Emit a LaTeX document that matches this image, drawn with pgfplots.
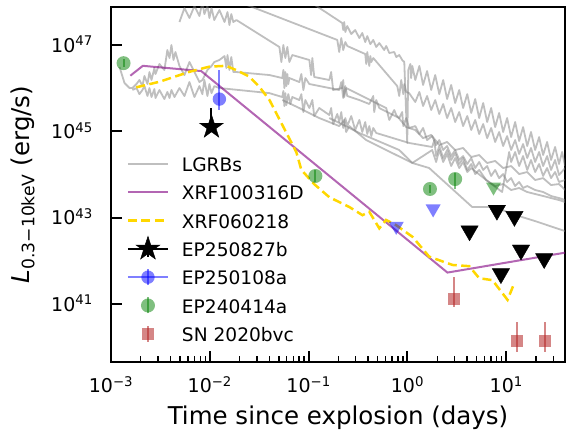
\documentclass[border=0pt]{standalone}
\usepackage{fontspec}
\setmainfont{DejaVu Sans}
\usepackage{pgfplots}
\pgfplotsset{compat=1.18}

\definecolor{lgrbgray}{RGB}{128,128,128}
\definecolor{xpurple}{RGB}{128,0,128}
\definecolor{xgold}{RGB}{255,215,0}
\definecolor{egreen}{RGB}{0,128,0}
\definecolor{eblue}{RGB}{0,0,255}
\definecolor{sred}{RGB}{178,34,34}

\pgfdeclareplotmark{fstar}{%
  \pgfpathmoveto{\pgfpointpolar{90}{\pgfplotmarksize}}%
  \pgfpathlineto{\pgfpointpolar{126}{0.382\pgfplotmarksize}}%
  \pgfpathlineto{\pgfpointpolar{162}{\pgfplotmarksize}}%
  \pgfpathlineto{\pgfpointpolar{198}{0.382\pgfplotmarksize}}%
  \pgfpathlineto{\pgfpointpolar{234}{\pgfplotmarksize}}%
  \pgfpathlineto{\pgfpointpolar{270}{0.382\pgfplotmarksize}}%
  \pgfpathlineto{\pgfpointpolar{306}{\pgfplotmarksize}}%
  \pgfpathlineto{\pgfpointpolar{342}{0.382\pgfplotmarksize}}%
  \pgfpathlineto{\pgfpointpolar{18}{\pgfplotmarksize}}%
  \pgfpathlineto{\pgfpointpolar{54}{0.382\pgfplotmarksize}}%
  \pgfpathclose\pgfusepathqfillstroke}

\pgfplotsset{
  lgrb/.style={draw=lgrbgray, draw opacity=0.5, line width=1.8pt, mark=none, line join=round, forget plot},
}

\begin{document}
\begin{tikzpicture}
\useasboundingbox (-111pt,-70pt) rectangle (455pt,362pt);
\begin{axis}[
  at={(0pt,0pt)}, anchor=south west,
  scale only axis, width=454pt, height=355pt,
  xmode=log, ymode=log,
  xmin=1e-3, xmax=39.3, ymin=4.6e39, ymax=7.6e47,
  xtick={0.001,0.01,0.1,1,10},
  xticklabels={10\textsuperscript{−3},10\textsuperscript{−2},10\textsuperscript{−1},10\textsuperscript{0},10\textsuperscript{1}},
  minor xtick={0.002,0.003,0.004,0.005,0.006,0.007,0.008,0.009,0.02,0.03,0.04,0.05,0.06,0.07,0.08,0.09,0.2,0.3,0.4,0.5,0.6,0.7,0.8,0.9,2,3,4,5,6,7,8,9,20,30},
  ytick={1e41,1e43,1e45,1e47},
  yticklabels={10\textsuperscript{41},10\textsuperscript{43},10\textsuperscript{45},10\textsuperscript{47}},
  yminorticks=false,
  tick pos=left, tick align=inside,
  major tick length=11pt, minor tick length=5.5pt,
  every major tick/.append style={line width=2pt, black},
  every minor tick/.append style={line width=1.3pt, black},
  axis line style={line width=2.5pt},
  tick label style={font=\fontsize{19}{23}\selectfont},
  xticklabel style={inner sep=0pt, anchor=base, yshift=-31pt},
  yticklabel style={inner sep=0pt, anchor=base east, xshift=-18pt, yshift=-7pt},
  label style={font=\fontsize{24.5}{29}\selectfont},
  xlabel={Time since explosion (days)},
  ylabel={{\itshape L}\textsubscript{0.3−10keV} (erg/s)},
  xlabel style={at={(axis description cs:0.5,-0.1775)}, anchor=base},
  ylabel style={at={(axis description cs:-0.1784,0.5)}, anchor=base},
  legend style={at={(axis description cs:0.0374,0.5755)}, anchor=north west,
    draw=none, fill=none, inner sep=0pt, outer sep=0pt,
    row sep=10.3pt, column sep=14pt,
    font=\fontsize{18.6}{22}\selectfont,
    cells={anchor=base west},
    nodes={inner sep=0pt, text height=14pt, text depth=4pt}},
]

% ---------------- LGRBs (grey) ----------------
\addplot[lgrb] coordinates {
(4.93e-3,3.41e47) (5.54e-3,7.2e47) (6.22e-3,4.22e47) (6.99e-3,8.0e47) (7.85e-3,4.69e47) (8.41e-3,9.9e47) (8.81e-3,5.2e47) (9.46e-3,8.0e47) (9.91e-3,4.22e47) (1.04e-2,7.2e47) (1.11e-2,3.79e47) (1.25e-2,6.46e47) (1.41e-2,3.41e47) (1.51e-2,5.8e47) (1.58e-2,2.90e47) (1.65e-2,5.2e47) (1.73e-2,3.41e47) (1.86e-2,3.79e47)
(5.06e-2,9.0e46) (5.30e-2,4.04e46) (5.55e-2,1.0e47) (5.81e-2,5.0e46) (6.09e-2,9.0e46) (6.38e-2,4.04e46) (6.84e-2,5.87e46) (0.1017,4.50e46) (0.106,2.02e46) (0.109,5.0e46) (0.114,1.82e46) (0.162,1.55e46) (0.169,2.37e46) (0.177,9.1e45) (0.219,1.01e46) (0.224,1.55e46) (0.229,6.25e45) (0.240,1.01e46) (0.610,3.48e45) (0.655,1.84e45) (0.735,3.13e45) (0.771,2.40e45) (0.973,1.26e45) (1.20,1.08e45) (1.44,7.0e44) (1.74,8.3e44) (2.10,4.84e44) (2.52,5.7e44) (3.04,3.71e44) (3.66,4.13e44) (4.42,2.55e44) (5.32,2.84e44) (6.41,1.86e44) (7.72,2.07e44) (9.30,1.42e44) (11.2,1.58e44) (13.5,1.03e44) (16.3,1.15e44) (19.6,7.5e43) (23.6,8.3e43) (28.4,5.74e43) (34.2,6.05e43) (39.4,4.40e43)
};
\addplot[lgrb] coordinates {
(0.0906,1.22e48) (0.219,3.23e47) (0.224,2.22e47) (0.229,3.41e47) (0.235,2.00e47) (0.246,2.75e47) (0.270,1.80e47) (0.296,2.22e47) (0.326,1.45e47) (0.349,1.90e47) (0.374,1.17e47) (0.392,1.61e47) (0.421,1.05e47) (0.451,1.31e47) (0.483,9.0e46) (0.519,1.11e47) (0.582,7.66e46) (0.610,9.5e46) (0.655,6.53e46) (0.735,6.89e46) (0.771,5.28e46) (0.826,5.87e46) (0.885,4.50e46) (0.929,4.04e46) (0.995,5.4e44) (1.02,2.64e46) (1.07,3.63e46) (1.09,1.72e46) (1.12,3.27e46)
(1.20,1.55e46) (1.32,3.27e46) (1.44,1.19e46) (1.58,2.50e46) (1.74,9.1e45) (1.91,2.02e46) (2.10,7.3e45) (2.30,1.55e46) (2.52,5.62e45) (2.77,1.19e46) (3.04,4.54e45) (3.34,9.1e45) (3.66,3.48e45) (4.03,7.3e45) (4.42,2.67e45) (4.85,5.62e45) (5.32,2.04e45) (5.84,4.54e45) (6.41,1.65e45) (7.03,3.48e45) (7.72,1.26e45) (8.47,2.67e45) (9.30,9.7e44) (10.2,2.04e45) (11.2,7.4e44) (12.3,1.65e45) (13.5,6.0e44) (14.8,1.26e45) (16.3,4.59e44) (17.8,9.7e44) (19.6,3.71e44) (21.5,7.4e44) (23.6,2.84e44) (25.9,5.7e44) (28.4,2.18e44) (31.2,4.36e44) (34.2,1.76e44) (36.7,3.34e44) (39.4,1.58e44)
};
\addplot[lgrb] coordinates {
(2.24e-2,8.9e47) (0.195,1.31e47) (0.204,6.89e46) (0.214,1.45e47) (0.224,7.66e46) (0.235,1.17e47) (0.246,9.5e46) (0.374,6.19e46) (0.383,3.63e46) (0.392,6.89e46) (0.411,3.27e46) (0.421,5.56e46) (0.431,4.04e46) (0.451,5.00e46) (0.789,1.12e46) (0.826,6.6e45) (0.865,1.55e46) (0.908,7.3e45) (0.929,1.25e46) (0.973,8.2e45) (1.04,7.7e45)
(1.20,4.80e45) (1.32,8.2e45) (1.44,3.87e45) (1.58,6.6e45) (1.74,3.13e45) (1.91,5.33e45) (2.10,2.53e45) (2.30,4.31e45) (2.52,2.04e45) (2.77,3.48e45) (3.04,1.65e45) (3.34,2.81e45) (3.66,1.33e45) (4.03,2.27e45) (4.42,1.08e45) (4.85,1.84e45) (5.32,8.7e44) (5.84,1.48e45) (6.41,7.0e44) (7.03,1.20e45) (7.72,5.7e44) (8.47,9.7e44) (9.30,4.59e44) (10.2,7.8e44) (11.2,3.71e44) (12.3,6.3e44) (13.5,3.0e44) (14.8,5.1e44) (16.3,2.42e44) (17.8,4.13e44) (19.6,1.96e44) (21.5,3.34e44) (23.6,1.58e44) (25.9,2.69e44) (28.4,1.28e44) (31.2,2.18e44) (34.2,9.8e43) (39.4,1.42e44)
};
\addplot[lgrb] coordinates {
(1.22e-3,3.10e46) (1.37e-3,1.32e46) (1.54e-3,1.01e46) (1.65e-3,1.01e46) (1.81e-3,1.25e46) (1.94e-3,1.55e46) (2.08e-3,1.12e46) (2.18e-3,1.92e46) (2.34e-3,1.25e46) (2.45e-3,2.37e46) (2.57e-3,1.55e46) (2.75e-3,2.94e46) (2.82e-3,2.13e46) (3.09e-3,3.63e46) (3.47e-3,2.64e46) (3.72e-3,7.66e46) (3.91e-3,5.00e46) (4.09e-3,1.00e47) (4.29e-3,4.50e46) (4.49e-3,6.89e46) (4.93e-3,3.27e46) (5.54e-3,2.02e46) (6.22e-3,4.04e46) (6.99e-3,2.37e46) (7.85e-3,1.39e46) (8.41e-3,1.55e46) (9.46e-3,2.64e46) (1.04e-2,3.27e46) (1.11e-2,4.04e46) (1.25e-2,4.50e46) (1.41e-2,5.56e46) (1.47e-2,2.94e46) (1.51e-2,5.87e46) (1.58e-2,2.64e46) (1.65e-2,5.28e46) (1.73e-2,2.37e46) (1.86e-2,2.37e46)
(4.01e-2,2.02e46) (5.42e-2,1.72e46) (5.55e-2,2.64e46) (5.68e-2,1.01e46) (5.81e-2,2.37e46) (5.95e-2,1.12e46) (6.09e-2,2.13e46) (6.23e-2,1.25e46) (6.38e-2,1.72e46) (8.05e-2,1.39e46) (8.44e-2,2.13e46) (8.85e-2,9.1e45) (9.27e-2,1.72e46) (0.1017,1.25e46) (0.204,9.1e45) (0.214,1.39e46) (0.224,5.93e45) (0.235,1.12e46) (0.246,6.6e45) (0.326,5.33e45) (0.411,4.31e45) (0.451,6.6e45) (0.461,2.81e45) (0.483,5.33e45) (0.519,3.48e45) (0.826,2.04e45) (0.885,2.81e45) (0.908,1.33e45) (0.973,2.04e45) (1.04,1.20e45)
(1.20,1.33e45) (1.32,8.7e44) (1.44,1.20e45) (1.58,6.3e44) (1.78,7.8e44) (1.95,4.84e44) (2.10,6.3e44) (2.30,3.71e44) (2.52,4.59e44) (2.77,2.69e44) (3.04,3.71e44) (3.34,2.18e44) (3.66,2.69e44) (4.03,1.76e44) (4.42,2.42e44) (4.85,1.42e44) (5.32,1.96e44) (5.84,1.28e44) (6.41,1.58e44) (7.03,9.3e43) (7.72,1.28e44) (8.47,8.3e43) (9.30,1.03e44) (10.2,6.75e43) (11.2,8.3e43) (12.3,5.44e43) (13.5,6.75e43) (14.8,4.90e43) (16.3,5.44e43) (19.6,4.40e43) (23.6,3.96e43) (28.4,3.20e43) (34.2,2.87e43) (39.4,2.58e43)
};
\addplot[lgrb] coordinates {
(1.65e-3,9.1e45) (1.81e-3,1.01e46) (1.94e-3,7.3e45) (2.08e-3,9.1e45) (2.18e-3,1.12e46) (2.34e-3,6.6e45) (2.45e-3,1.01e46) (2.57e-3,6.25e45) (2.75e-3,9.6e45) (2.82e-3,5.93e45) (3.09e-3,9.1e45) (3.47e-3,5.62e45) (3.72e-3,8.2e45) (3.91e-3,5.93e45) (4.09e-3,9.1e45) (4.39e-3,6.25e45) (4.93e-3,1.01e46) (5.54e-3,6.6e45) (6.22e-3,1.39e46) (6.99e-3,6.25e45) (7.85e-3,1.12e46) (8.41e-3,7.3e45) (8.81e-3,1.55e46) (9.46e-3,6.6e45) (9.91e-3,1.25e46) (1.04e-2,7.7e45) (1.11e-2,1.12e46) (1.25e-2,1.01e46)
(4.01e-2,7.7e45) (5.42e-2,6.25e45) (5.55e-2,8.6e45) (5.68e-2,3.87e45) (5.81e-2,7.7e45) (5.95e-2,4.08e45) (6.23e-2,7.3e45) (6.53e-2,4.31e45) (6.84e-2,6.25e45) (8.05e-2,5.33e45) (8.44e-2,7.3e45) (8.85e-2,2.81e45) (9.27e-2,5.33e45) (0.1017,3.48e45) (0.109,5.33e45) (0.114,2.27e45) (0.128,3.48e45) (0.162,2.40e45) (0.169,3.48e45) (0.177,1.48e45) (0.195,2.53e45) (0.204,1.65e45) (0.214,2.81e45) (0.224,1.20e45) (0.235,2.04e45) (0.246,1.33e45) (0.270,2.27e45) (0.296,1.08e45) (0.326,1.84e45) (0.349,9.7e44) (0.374,1.65e45) (0.392,8.7e44) (0.411,1.33e45) (0.431,7.8e44) (0.451,1.20e45) (0.483,9.2e44)
(1.04,5.4e44) (1.78,4.36e44) (1.87,6.3e44) (1.95,2.69e44) (2.10,4.59e44) (2.30,2.42e44) (2.52,3.71e44) (2.77,2.18e44) (3.04,3.16e44) (3.34,1.76e44) (3.66,2.42e44) (4.03,1.28e44) (4.42,1.76e44) (4.85,1.03e44) (5.32,1.28e44) (6.26,7.5e43) (7.72,5.44e43) (9.30,6.05e43) (11.2,4.40e43) (13.5,4.90e43) (16.3,3.96e43) (19.6,3.56e43) (23.6,3.20e43) (28.4,2.87e43) (34.2,2.58e43) (39.4,2.32e43)
};
\addplot[lgrb] coordinates {
(5.42e-2,5.33e45) (8.05e-2,3.48e45) (0.128,2.04e45) (0.204,1.33e45) (0.229,1.84e45) (0.240,9.7e44) (0.258,1.33e45) (0.383,6.3e44) (1.12,1.86e44) (1.66,1.42e44) (4.52,1.78e43) (7.91,1.78e43) (10.7,1.29e43) (19.6,8.4e42) (36.7,5.2e42) (39.4,4.94e42)
};
\addplot[lgrb] coordinates {
(0.162,2.04e45) (0.326,9.2e44) (0.826,3.71e44) (1.12,1.86e44) (1.78,3.71e44) (1.95,1.96e44) (2.10,3.71e44) (2.30,1.96e44) (2.52,3.0e44) (2.77,1.58e44) (3.04,2.42e44) (3.34,1.42e44) (3.66,1.96e44) (4.03,1.15e44) (4.42,1.42e44) (6.26,7.5e43) (9.08,3.96e43) (10.7,3.34e44) (11.2,1.96e44) (12.3,3.34e44) (13.5,1.58e44) (14.8,2.69e44) (16.3,1.28e44) (17.8,2.18e44) (19.6,1.15e44) (21.5,1.76e44) (23.6,9.3e43) (25.9,1.42e44) (28.4,8.3e43) (31.2,1.15e44) (34.2,6.75e43) (39.4,7.5e43)
};

% ---------------- XRF100316D ----------------
\addplot[draw=xpurple, draw opacity=0.6, line width=2pt, mark=none, forget plot] coordinates {
(1.57e-3,1.95e46) (2.1e-3,3.3e46) (8.17e-3,2.5e46) (2.54,5.4e41) (40,1.57e42)
};

% ---------------- XRF060218 ----------------
\addplot[draw=xgold, line width=2.5pt, dash pattern=on 9pt off 4.5pt, mark=none, forget plot] coordinates {
(1.80e-3,1.05e46) (3.09e-3,1.41e46) (6.22e-3,2.40e46) (9.9e-3,3.16e46) (1.46e-2,3.3e46) (1.85e-2,2.63e46) (2.51e-2,1.86e46) (3.18e-2,1.07e46) (4.01e-2,5.37e45) (5.42e-2,1.41e45) (7.51e-2,3.31e44) (8.44e-2,1.29e44) (0.114,6.0e43) (0.162,3.0e43) (0.258,1.78e43) (0.351,1.15e43) (0.411,1.38e43) (0.519,5.7e42) (0.607,8.9e42) (0.766,6.8e42) (1.13,3.6e42) (1.66,1.26e42) (2.86,8.1e41) (4.22,7.6e41) (5.32,4.0e41) (7.25,3.6e41) (10.3,1.26e41) (12.0,3.0e41)
};

% ---------------- EP240414a ----------------
\addplot[only marks, mark=*, mark size=7pt, mark options={fill=egreen, fill opacity=0.5, draw=egreen, draw opacity=0}, forget plot,
  error bars/.cd, y dir=both, y explicit, error mark=none, error bar style={draw=egreen, draw opacity=0.5, line width=2pt}]
coordinates {
(1.34e-3,3.8e46) += (0,9.3e45) -= (0,7.6e45)
(0.117,9.3e43) += (0,3.5e43) -= (0,2.6e43)
(1.69,4.65e43) += (0,1.1e43) -= (0,0.9e43)
(3.04,7.9e43) += (0,3.0e43) -= (0,3.2e43)
};
\addplot[only marks, mark=triangle*, mark size=8.7pt, mark options={rotate=180, fill=egreen, fill opacity=0.5, draw=egreen, draw opacity=0}, forget plot]
coordinates {(7.43,5.2e43)};

% ---------------- EP250108a ----------------
\addplot[only marks, mark=*, mark size=6.7pt, mark options={fill=eblue, fill opacity=0.5, draw=eblue, draw opacity=0}, forget plot,
  error bars/.cd, y dir=both, y explicit, error mark=none, error bar style={draw=eblue, draw opacity=0.5, line width=2pt}]
coordinates {(0.0125,5.6e45) += (0,2.08e46) -= (0,2.47e45)};
\addplot[only marks, mark=triangle*, mark size=8.7pt, mark options={rotate=180, fill=eblue, fill opacity=0.5, draw=eblue, draw opacity=0}, forget plot]
coordinates {(0.77,6.4e42) (1.82,1.62e43)};

% ---------------- EP250827b ----------------
\addplot[only marks, mark=fstar, mark size=12.5pt, mark options={fill=black, draw=black}, forget plot,
  error bars/.cd, y dir=plus, y explicit, error mark=none, error bar style={draw=black, line width=2pt}]
coordinates {(0.0104,1.26e45) +- (0,2.2e45)};
\addplot[only marks, mark=triangle*, mark size=10pt, mark options={rotate=180, fill=black, draw=black}, forget plot]
coordinates {(4.25,5.0e42) (8.04,1.50e43) (12.1,1.08e43) (14.1,1.80e42) (24.2,1.14e42) (8.83,5.1e41)};

% ---------------- SN 2020bvc ----------------
\addplot[only marks, mark=square*, mark size=5.8pt, mark options={fill=sred, fill opacity=0.55, draw=sred, draw opacity=0}, forget plot,
  error bars/.cd, y dir=both, y explicit, error mark=none, error bar style={draw=sred, draw opacity=0.55, line width=2pt}]
coordinates {
(2.95,1.32e41) += (0,3.0e41) -= (0,4.5e40)
(12.8,1.43e40) += (0,2.5e40) -= (0,6.5e39)
(24.7,1.43e40) += (0,2.5e40) -= (0,6.5e39)
};

% ---------------- legend ----------------
\addlegendimage{legend image code/.code={\path[draw=none, fill=none, use as bounding box] (0pt,-4pt) rectangle (40pt,14pt);
  \path[draw=lgrbgray, draw opacity=0.5, line width=1.8pt] (0pt,7.7pt) -- (40pt,7.7pt);}}
\addlegendentry{LGRBs}
\addlegendimage{legend image code/.code={\path[draw=none, fill=none, use as bounding box] (0pt,-4pt) rectangle (40pt,14pt);
  \path[draw=xpurple, draw opacity=0.6, line width=2pt] (0pt,7.7pt) -- (40pt,7.7pt);}}
\addlegendentry{XRF100316D}
\addlegendimage{legend image code/.code={\path[draw=none, fill=none, use as bounding box] (0pt,-4pt) rectangle (40pt,14pt);
  \path[draw=xgold, line width=2.5pt, dash pattern=on 9pt off 4.5pt] (0pt,7.7pt) -- (40pt,7.7pt);}}
\addlegendentry{XRF060218}
\addlegendimage{legend image code/.code={\path[draw=none, fill=none, use as bounding box] (0pt,-4pt) rectangle (40pt,14pt);
  \path[draw=black, line width=2pt] (0pt,7.7pt) -- (40pt,7.7pt);
  \path[draw=black, line width=2pt] (20pt,0pt) -- (20pt,15.4pt);
  \path[draw=black, fill=black, line width=0.5pt] plot[mark=fstar, mark size=12.5pt, only marks] coordinates {(20pt,7.7pt)};}}
\addlegendentry{EP250827b}
\addlegendimage{legend image code/.code={\path[draw=none, fill=none, use as bounding box] (0pt,-4pt) rectangle (40pt,14pt);
  \path[draw=eblue, draw opacity=0.5, line width=2pt] (0pt,7.7pt) -- (40pt,7.7pt);
  \path[draw=eblue, draw opacity=0.5, line width=2pt] (20pt,-0.3pt) -- (20pt,15.7pt);
  \path[draw=none, fill=eblue, fill opacity=0.5] (20pt,7.7pt) circle[radius=6.7pt];}}
\addlegendentry{EP250108a}
\addlegendimage{legend image code/.code={\path[draw=none, fill=none, use as bounding box] (0pt,-4pt) rectangle (40pt,14pt);
  \path[draw=egreen, draw opacity=0.5, line width=2pt] (20pt,-0.3pt) -- (20pt,15.7pt);
  \path[draw=none, fill=egreen, fill opacity=0.5] (20pt,7.7pt) circle[radius=7pt];}}
\addlegendentry{EP240414a}
\addlegendimage{legend image code/.code={\path[draw=none, fill=none, use as bounding box] (0pt,-4pt) rectangle (40pt,14pt);
  \path[draw=sred, draw opacity=0.55, line width=2pt] (20pt,-0.3pt) -- (20pt,15.7pt);
  \path[draw=none, fill=sred, fill opacity=0.55] (14.2pt,1.9pt) rectangle (25.8pt,13.5pt);}}
\addlegendentry{SN 2020bvc}

\end{axis}
\end{tikzpicture}
\end{document}
